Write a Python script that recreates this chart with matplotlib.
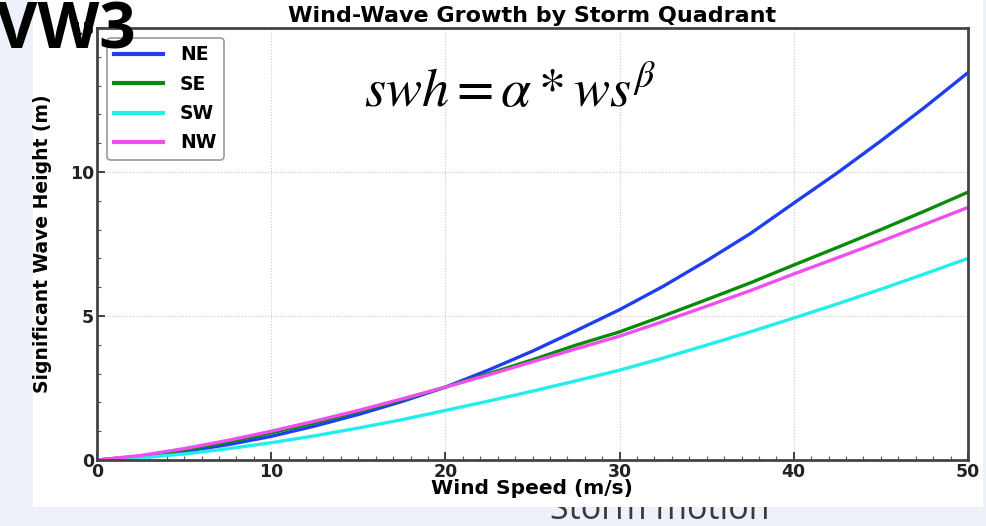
import matplotlib
matplotlib.use("Agg")
import matplotlib.pyplot as plt
from matplotlib.ticker import MultipleLocator
from matplotlib.transforms import Bbox, TransformedBbox

wind_speed = [0, 2.5, 5, 7.5, 10, 12.5, 15, 17.5, 20, 22.5, 25, 27.5, 30,
              32.5, 35, 37.5, 40, 42.5, 45, 47.5, 50]
ne = [0, 0.10, 0.29, 0.53, 0.82, 1.18, 1.58, 2.03, 2.53, 3.13, 3.78, 4.49, 5.22,
      6.03, 6.92, 7.86, 8.92, 9.97, 11.08, 12.24, 13.45]
se = [0, 0.13, 0.35, 0.62, 0.94, 1.29, 1.68, 2.09, 2.53, 3.00, 3.48, 3.99, 4.45,
      5.00, 5.57, 6.15, 6.77, 7.38, 8.00, 8.64, 9.30]
sw = [0, 0.075, 0.21, 0.39, 0.60, 0.84, 1.11, 1.40, 1.72, 2.05, 2.39, 2.75, 3.12,
      3.54, 3.99, 4.45, 4.93, 5.42, 5.93, 6.46, 7.00]
nw = [0, 0.156, 0.395, 0.68, 1.00, 1.35, 1.72, 2.12, 2.53, 2.96, 3.41, 3.86, 4.30,
      4.81, 5.34, 5.88, 6.46, 7.02, 7.59, 8.18, 8.77]
series_names = ["NE", "SE", "SW", "NW"]
series_colors = ["#1f3fef", "#0a8a0a", "#22eeee", "#f04ef0"]

W, H = 986, 526
fig = plt.figure(figsize=(W / 100, H / 100), dpi=100, facecolor="#edf2fa")

# slide text partly hidden behind the pasted chart image: only the strip below
# the image is visible
storm = fig.text(660 / W, 1 - 519 / H, "Storm motion", fontsize=24.5, color="#3a3a3a",
                 family="Open Sans", ha="center", va="baseline", zorder=0)
storm.set_clip_box(TransformedBbox(Bbox([[0, 0], [1, (H - 507) / H]]), fig.transFigure))
storm.set_clip_on(True)

# white pasted image area
paper = fig.add_axes([33 / W, 1 - 507 / H, (983 - 33) / W, 507 / H])
paper.set_zorder(1)
paper.set_facecolor("white")
paper.set_xticks([])
paper.set_yticks([])
for s in paper.spines.values():
    s.set_visible(False)

ax = fig.add_axes([97 / W, 1 - 460 / H, (968 - 97) / W, (460 - 28) / H])
ax.set_zorder(2)
ax.set_facecolor("white")

for vals, name, col in zip([ne, se, sw, nw], series_names, series_colors):
    ax.plot(wind_speed, vals, color=col, lw=2.4, label=name)

ax.set_xlim(0, 50)
ax.set_ylim(0, 15)
ax.xaxis.set_major_locator(MultipleLocator(10))
ax.yaxis.set_major_locator(MultipleLocator(5))
ax.xaxis.set_minor_locator(MultipleLocator(1))
ax.yaxis.set_minor_locator(MultipleLocator(1))
ax.tick_params(which="major", direction="in", length=6, width=1.2, labelsize=12.5,
               colors="#222222", pad=2)
ax.tick_params(which="minor", direction="in", length=3, width=0.8, colors="#555555")
for lab in ax.get_xticklabels() + ax.get_yticklabels():
    lab.set_fontweight("bold")
ax.grid(True, which="major", ls=":", color="#c8c8c8", lw=0.8)
for s in ax.spines.values():
    s.set_color("#444444")
    s.set_linewidth(2)

ax.set_title("Wind-Wave Growth by Storm Quadrant", fontsize=16, fontweight="bold", pad=4)
ax.set_xlabel("Wind Speed (m/s)", fontsize=14.5, fontweight="bold")
ax.set_ylabel("Significant Wave Height (m)", fontsize=13.5, fontweight="bold")
ax.xaxis.label.set_va("center")
ax.xaxis.set_label_coords((532 - 97) / 871, -(489 - 460) / 432)
ax.yaxis.label.set_va("center")
ax.yaxis.set_label_coords((43 - 97) / 871, 0.5)

leg = ax.legend(loc="upper left", prop={"weight": "bold", "size": 13.5},
                handlelength=2.6, handletextpad=0.9, borderaxespad=0.53,
                labelspacing=0.55, edgecolor="#999999", fancybox=True, framealpha=1)
leg.get_frame().set_linewidth(1.2)
for h in leg.get_lines():
    h.set_linewidth(3)

ax.text(0.474, 0.853, r"$swh = \alpha * ws^{\beta}$", transform=ax.transAxes,
        fontsize=39, ha="center", va="center", math_fontfamily="stix")

fig.text(-4 / W, 1 - 32 / H, "VW3", fontsize=46, fontweight="bold", family="Open Sans",
         color="black", ha="left", va="center", zorder=10)

fig.savefig("out.png", dpi=100, facecolor=fig.get_facecolor())
